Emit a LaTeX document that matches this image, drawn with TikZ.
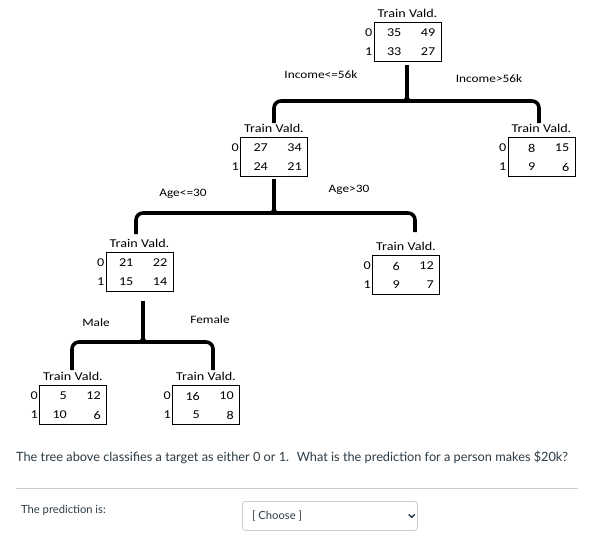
\documentclass[tikz,border=0pt]{standalone}
\usepackage{fontspec}
\setmainfont{Carlito}
\newfontfamily\treefont[FakeStretch=1.18]{Carlito}
\newfontfamily\uifont{Lato}
\definecolor{canvastext}{HTML}{2D3B45}
\definecolor{canvasrule}{HTML}{C7CDD1}
\tikzset{
  tbox/.style={draw=black, line width=0.8pt, minimum width=67pt, minimum height=39pt, inner sep=0pt},
  ttext/.style={font=\treefont\fontsize{12}{14}\selectfont, inner sep=0pt},
  cell/.style={ttext, anchor=east},
  splitlabel/.style={font=\treefont\fontsize{11.3}{13}\selectfont, inner sep=0pt},
  bracebar/.style={line width=3.6pt, rounded corners=7pt},
  stemline/.style={line width=3.6pt},
  flare/.style={fill=black},
  uitext/.style={font=\uifont\fontsize{12.75}{15}\selectfont, text=canvastext, inner sep=0pt},
  uismall/.style={font=\uifont\fontsize{11.2}{13}\selectfont, text=canvastext, inner sep=0pt},
}
% name, x center, y top, a, b, c, d
\newcommand\tbl[7]{%
  \node[tbox, anchor=north] (#1) at (#2,#3) {};
  \node[ttext] (#1-h) at ([yshift=9pt]#1.north) {Train Vald.};
  \node[ttext, anchor=east] (#1-r0) at ([xshift=-1pt,yshift=-11pt]#1.north west) {0};
  \node[ttext, anchor=east] (#1-r1) at ([xshift=-1pt,yshift=-30pt]#1.north west) {1};
  \node[cell] (#1-a) at ([xshift=28pt,yshift=-11pt]#1.north west) {#4};
  \node[cell] (#1-b) at ([xshift=-6pt,yshift=-11pt]#1.north east) {#5};
  \node[cell] (#1-c) at ([xshift=28pt,yshift=-30pt]#1.north west) {#6};
  \node[cell] (#1-d) at ([xshift=-6pt,yshift=-30pt]#1.north east) {#7};
}
\newcommand\flareat[1]{%
  \fill[flare] ([xshift=-4.5pt]#1) -- ([yshift=6pt]#1) -- ([xshift=4.5pt]#1) -- cycle;
}
\begin{document}
\begin{tikzpicture}[x=1pt,y=-1pt]
\useasboundingbox[fill=white] (0,0) rectangle (595,539);

% tables
\tbl{root}{407.5}{22}{35}{49}{33}{27}
\tbl{inclo}{274}{137}{27}{34}{24}{21}
\tbl{inchi}{541.5}{137}{8}{15}{9}{6}
\tbl{agelo}{139.5}{252}{21}{22}{15}{14}
\tbl{agehi}{406}{255}{6}{12}{9}{7}
\tbl{male}{73}{385}{5}{12}{10}{6}
\tbl{female}{206}{385}{16}{10}{5}{8}

% brackets
\coordinate (j1) at (407,101);
\coordinate (j1l) at (274,123);
\coordinate (j1r) at (539,123);
\draw[stemline] ([yshift=-3pt]root.south -| j1) -- (j1);
\draw[bracebar] (j1l) |- (j1) -| (j1r);
\flareat{j1}

\coordinate (j2) at (274,213);
\coordinate (j2l) at (136,234);
\coordinate (j2r) at (415,232);
\draw[stemline] ([yshift=-2pt]inclo.south -| j2) -- (j2);
\draw[bracebar] (j2l) |- (j2) -| (j2r);
\flareat{j2}

\coordinate (j3) at (143,342);
\coordinate (j3l) at (72,370);
\coordinate (j3r) at (213,370);
\draw[stemline] ([yshift=-9pt]agelo.south -| j3) -- (j3);
\draw[bracebar] (j3l) |- (j3) -| (j3r);
\flareat{j3}

% split labels
\node[splitlabel] (l1) at (321,75) {Income<=56k};
\node[splitlabel] (l2) at (489,79) {Income>56k};
\node[splitlabel] (l3) at (183,194) {Age<=30};
\node[splitlabel] (l4) at (349,190) {Age>30};
\node[splitlabel] (l5) at (96,323) {Male};
\node[splitlabel] (l6) at (210,320) {Female};

% question
\node[uitext, anchor=west] (q) at (16,457) {The tree above classifies a target as either 0 or 1.~ What is the prediction for a person makes \$20k?};
\coordinate (ruleL) at (16,488);
\coordinate (ruleR) at (578,488);
\draw[canvasrule, line width=0.8pt] (ruleL) -- (ruleR);
\node[uismall, anchor=west] (p) at (21,510) {The prediction is:};
\node[draw=canvasrule, line width=0.8pt, rounded corners=3pt, minimum width=175pt, minimum height=29pt, anchor=north west, inner sep=0pt] (dd) at (242,501) {};
\node[uismall, anchor=west] (ch) at ([xshift=10pt]dd.west) {[ Choose ]};
\coordinate (chev) at ([xshift=-6pt]dd.east);
\draw[canvastext, line width=1.4pt] ([xshift=-3pt,yshift=1.5pt]chev) -- ([yshift=-1.5pt]chev) -- ([xshift=3pt,yshift=1.5pt]chev);
\end{tikzpicture}
\end{document}
